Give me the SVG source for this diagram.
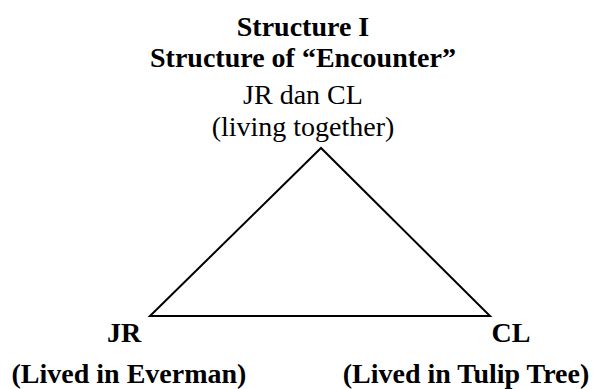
<svg xmlns="http://www.w3.org/2000/svg" width="595" height="389" viewBox="0 0 595 389">
<style>
text{font-family:"Liberation Serif","Times New Roman",serif;fill:#000;text-anchor:middle;font-size:28px}
.b{font-weight:bold}
.edge{stroke:#000;stroke-width:2;fill:none;stroke-linejoin:miter}
</style>
<rect width="595" height="389" fill="#fff"/>
<g id="title">
<text class="b" x="303" y="36">Structure I</text>
<text class="b" x="303" y="67">Structure of “Encounter”</text>
</g>
<g id="top">
<text x="303" y="104">JR dan CL</text>
<text x="303" y="136">(living together)</text>
</g>
<g id="connectors">
<path class="edge" d="M150,316 L321,148 L490,316 Z"/>
</g>
<g id="jr">
<text class="b" x="124" y="342">JR</text>
<text class="b" x="129" y="383">(Lived in Everman)</text>
</g>
<g id="cl">
<text class="b" x="511" y="342">CL</text>
<text class="b" x="466" y="383">(Lived in Tulip Tree)</text>
</g>
</svg>
